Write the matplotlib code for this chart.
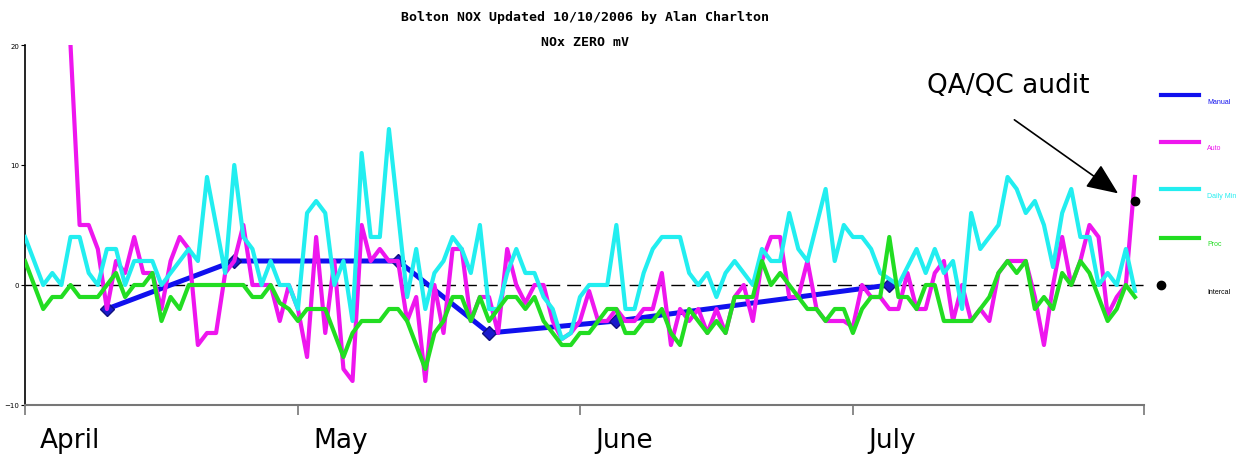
import matplotlib
matplotlib.use("Agg")
import matplotlib.pyplot as plt
from matplotlib.lines import Line2D

# days counted from 1 April 2006
month_starts = [0, 30, 61, 91]
month_names = ["April", "May", "June", "July"]

manual_days = [9, 23, 41, 51, 65, 95]
manual_vals = [-2, 2, 2, -4, -3, 0]

auto_days = list(range(5, 123))
auto_vals = [20, 5, 5, 3, -2, 2, 1, 4, 1, 1, -2, 2, 4, 3, -5, -4, -4, 1, 2, 5,
             0, 0, 0, -3, 0, -2, -6, 4, -4, 2, -7, -8, 5, 2, 3, 2, 2, -3, -1, -8,
             0, -4, 3, 3, -3, -1, -1, -4, 3, 0, -1.5, 0, 0, -3, -4.5, -4, -3, -0.5, -3, -3,
             -2, -3, -3, -2, -2, 1, -5, -2, -3, -2, -4, -2, -4, -1, 0, -3, 2, 4, 4, -1,
             -1, 2, -2, -3, -3, -3, -3.5, 0, -1, -1, -2, -2, 1, -2, -2, 1, 2, -3, 0, -3,
             -2, -3, 1, 2, 2, 2, -1, -5, 0, 4, 0, 2, 5, 4, -2.5, -1, 0, 9]

dmin_days = [0] + list(range(2, 21)) + list(range(22, 41)) + list(range(42, 123))
dmin_vals = [4, 0, 1, 0, 4, 4, 1, 0, 3, 3, 0, 2, 2, 2, 0, 1, 2, 3, 2, 9,
             1, 10, 4, 3, 0, 2, 0, 0, -2, 6, 7, 6, 0, 2, -3, 11, 4, 4, 13,
             -1, 3, -2, 1, 2, 4, 3, 1, 5, -2, -2, 1, 3, 1, 1, -1, -2, -4.5, -4, -1,
             0, 0, 0, 5, -2, -2, 1, 3, 4, 4, 4, 1, 0, 1, -1, 1, 2, 1, 0, 3,
             2, 2, 6, 3, 2, 5, 8, 2, 5, 4, 4, 3, 1, 0.5, 0, 1.5, 3, 1, 3, 1,
             2, -2, 6, 3, 4, 5, 9, 8, 6, 7, 5, 1.5, 6, 8, 4, 4, 0, 1, 0, 3, -0.5]

proc_days = [0] + list(range(2, 123))
proc_vals = [2, -2, -1, -1, 0, -1, -1, -1, 0, 1, -1, 0, 0, 1, -3, -1, -2, 0, 0, 0,
             0, 0, 0, 0, -1, -1, 0, -1.5, -2, -3, -2, -2, -2, -4, -6, -4, -3, -3, -3, -2,
             -2, -3, -5, -7, -4, -3, -1, -1, -3, -1, -3, -2, -1, -1, -2, -1, -3, -4, -5, -5,
             -4, -4, -3, -2, -2, -4, -4, -3, -3, -2, -4, -5, -2, -3, -4, -3, -4, -1, -1, -1,
             2, 0, 1, 0, -1, -2, -2, -3, -2, -2, -4, -2, -1, -1, 4, -1, -1, -2, 0, 0,
             -3, -3, -3, -3, -2, -1, 1, 2, 1, 2, -2, -1, -2, 1, 0, 2, 1, -1, -3, -2, 0, -1]

intercal_day = [122]
intercal_val = [7]

c_manual = "#1010ee"
c_auto = "#ee16ee"
c_dmin = "#22eef0"
c_proc = "#22dd22"

fig = plt.figure(figsize=(12.45, 4.6), dpi=100)
ax = fig.add_axes([0.0201, 0.1174, 0.8988, 0.7826])

ax.axhline(0, color="black", lw=1, dashes=(10, 5), zorder=1)
ax.plot(manual_days, manual_vals, color=c_manual, lw=3.6, marker="D", ms=7,
        mfc="#1a1acc", mec="#101080", zorder=2)
ax.plot(auto_days, auto_vals, color=c_auto, lw=3, zorder=3)
ax.plot(dmin_days, dmin_vals, color=c_dmin, lw=3, zorder=4)
ax.plot(proc_days, proc_vals, color=c_proc, lw=3, zorder=5)
ax.plot(intercal_day, intercal_val, "o", color="black", ms=6, zorder=6)

ax.set_xlim(0, 123)
ax.set_ylim(-10, 20)

for s in ["top", "right"]:
    ax.spines[s].set_visible(False)
ax.spines["left"].set_color("black")
ax.spines["left"].set_linewidth(1.2)
ax.spines["bottom"].set_color("#777777")
ax.spines["bottom"].set_linewidth(1.5)

ax.set_yticks([-10, 0, 10, 20])
ax.tick_params(axis="y", labelsize=5, length=3, width=0.8, pad=1)
ax.set_xticks(month_starts + [123])
ax.set_xticklabels([])
ax.tick_params(axis="x", length=7, width=1.2, color="#777777")

for d, name in zip(month_starts, month_names):
    ax.annotate(name, xy=(d, 0), xycoords=("data", "axes fraction"),
                xytext=(15, -35), textcoords="offset pixels",
                ha="left", va="center", fontsize=19)

ax.annotate("", xy=(120.4, 7.5), xytext=(108.5, 13.9),
            arrowprops=dict(arrowstyle="-|>,head_length=1.4,head_width=0.6",
                            mutation_scale=14, lw=1.2, color="black"))
ax.text(108.1, 16.7, "QA/QC audit", ha="center", va="center", fontsize=19)

fig.text(0.47, 1 - 17 / 460, "Bolton NOX Updated 10/10/2006 by Alan Charlton",
         family="DejaVu Sans Mono", weight="bold", fontsize=9.5,
         ha="center", va="center")
fig.text(0.47, 1 - 42 / 460, "NOx ZERO mV", family="DejaVu Sans Mono",
         weight="bold", fontsize=9.5, ha="center", va="center")

# hand-made legend on the right
leg_items = [("Manual", c_manual), ("Auto", c_auto), ("Daily Min", c_dmin), ("Proc", c_proc)]
leg_y = [96, 143, 190, 239]
for (label, col), y in zip(leg_items, leg_y):
    yf = 1 - y / 460
    fig.add_artist(Line2D([1161 / 1245, 1199 / 1245], [yf, yf], color=col, lw=3,
                          transform=fig.transFigure))
    fig.text(1207 / 1245, yf - 6 / 460, label, color=col, fontsize=5,
             family="Liberation Sans", ha="left", va="center")
fig.add_artist(Line2D([1161 / 1245], [1 - 286 / 460], marker="o", color="black",
                      ms=6, transform=fig.transFigure))
fig.text(1207 / 1245, 1 - 292 / 460, "Intercal", color="black", fontsize=5,
         family="Liberation Sans", ha="left", va="center")

fig.savefig("out.png", dpi=100)
